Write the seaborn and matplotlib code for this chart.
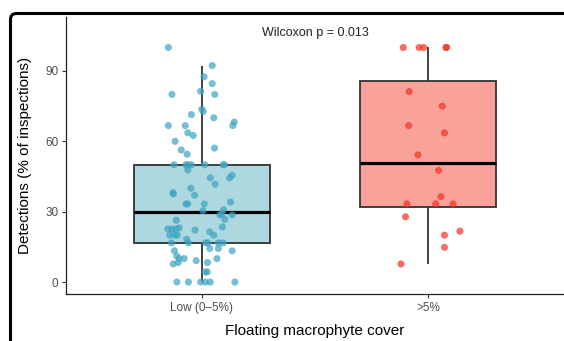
import matplotlib
matplotlib.use("Agg")
import matplotlib.pyplot as plt
from matplotlib.patches import FancyBboxPatch
import seaborn as sns
import pandas as pd

# data
groups = ["Low (0–5%)", ">5%"]

low_values = [100, 92.3, 87.5, 84.6, 81.3, 80, 80, 73.7, 72.7, 71.4, 70, 68.2,
              66.7, 66.7, 66.7, 63.6, 62.5, 60, 57.1, 56.3, 54.5,
              50, 50, 50, 50, 50, 50, 50, 47.8, 45.5, 44.4, 44.4, 41.7, 40,
              38.1, 37.5, 37, 34.1, 33.3, 33.3, 33.3, 30.8, 30.4, 29, 28.6, 28.6,
              26.7, 26.3, 23.5, 22.6, 22.6, 22.6, 23.1, 22.2, 21.4,
              20, 20, 20, 20, 18.2, 16.7, 16.7, 16.7, 16.7, 16.7, 16.7,
              14.3, 14.3, 13.3, 13.3, 11.1, 10, 10, 10, 9.1, 8.3, 8.3, 7.7,
              4.3, 4.3, 0, 0, 0, 0, 0, 0]
low_jitter = [-0.148, 0.046, 0.010, 0.046, -0.005, 0.057, -0.132, 0.0, 0.006, -0.046, 0.053, 0.143,
              -0.148, -0.073, 0.137, -0.062, -0.038, -0.118, 0.056, -0.091, -0.065,
              -0.123, -0.070, -0.062, -0.046, 0.013, 0.094, 0.100, -0.062, 0.134, 0.123, 0.037, 0.059, -0.048,
              -0.127, -0.126, -0.032, 0.127, -0.070, -0.062, 0.011, 0.096, 0.005, 0.088, 0.080, 0.134,
              0.102, -0.113, 0.091, -0.150, -0.131, -0.113, -0.100, -0.030, 0.035,
              -0.142, -0.121, -0.108, 0.053, -0.067, -0.059, -0.134, 0.016, 0.027, 0.073, 0.094,
              0.035, 0.073, -0.121, 0.134, -0.111, -0.100, -0.078, 0.067, -0.025, 0.025, -0.104, -0.126,
              0.024, 0.016, -0.110, -0.059, -0.005, 0.016, 0.037, 0.146]

high_values = [100, 100, 100, 100, 100, 81.2, 75, 66.7, 63.6, 54.2, 47.6, 36.4,
               33.3, 33.3, 33.3, 27.8, 21.7, 20, 14.8, 7.7]
high_jitter = [-0.110, -0.040, -0.020, 0.078, 0.082, -0.084, 0.062, -0.086, 0.072, -0.045, 0.046, 0.056,
               -0.094, 0.033, 0.110, -0.100, 0.140, 0.072, 0.072, -0.120]

y_ticks = [0, 30, 60, 90]
p_label = "Wilcoxon p = 0.013"

box_fill = {groups[0]: "#ADD8E0", groups[1]: "#F8A299"}
point_color = {groups[0]: "#3BA3C1", groups[1]: "#F42F22"}

df = pd.DataFrame({
    "cover": [groups[0]] * len(low_values) + [groups[1]] * len(high_values),
    "det": low_values + high_values,
    "jit": low_jitter + high_jitter,
})
df["code"] = df["cover"].map({g: i for i, g in enumerate(groups)})
df["xpos"] = df["code"] + df["jit"]

sns.set_style("ticks")
plt.rcParams["font.family"] = ["Liberation Sans", "DejaVu Sans"]

W, H = 564, 341
fig = plt.figure(figsize=(W / 100, H / 100), dpi=100)
ax = fig.add_axes([66 / W, 1 - 294 / H, 498 / W, 277 / H])

sns.boxplot(data=df, x="code", y="det", hue="cover", palette=box_fill, saturation=1,
            native_scale=True, width=0.6, showfliers=False, showcaps=False,
            linewidth=1.3, linecolor="#333333", legend=False,
            medianprops=dict(color="black", linewidth=2.3), ax=ax)
sns.scatterplot(data=df, x="xpos", y="det", hue="cover", palette=point_color,
                s=26, alpha=0.7, edgecolor="none", legend=False, ax=ax, zorder=3)

ax.set_xlim(-0.6, 1.6)
ax.set_ylim(-5.1, 113)
ax.set_xticks([0, 1], groups)
ax.set_yticks(y_ticks)
sns.despine(ax=ax)
for s in ["left", "bottom"]:
    ax.spines[s].set_linewidth(0.9)
    ax.spines[s].set_color("#222222")
ax.tick_params(axis="both", length=3, width=0.8, color="#333333",
               labelcolor="#4D4D4D", labelsize=8.5, pad=2.5)

ax.set_xlabel("Floating macrophyte cover", fontsize=11, color="black")
ax.set_ylabel("Detections (% of inspections)", fontsize=11, color="black")
ax.xaxis.set_label_coords(0.5, -0.108)
ax.yaxis.set_label_coords(-0.068, 0.5)

ax.text(0.5, 104.7, p_label, ha="center", va="baseline", fontsize=9, color="#222222")

# black rounded frame around the panel
frame = FancyBboxPatch((0.105, -0.3), 6.0, 3.41 - 0.135 + 0.3,
                       boxstyle="round,pad=0,rounding_size=0.06",
                       transform=fig.dpi_scale_trans, lw=2.2, ec="black", fc="none",
                       clip_on=False)
fig.patches.append(frame)

fig.savefig("out.png", dpi=100)
